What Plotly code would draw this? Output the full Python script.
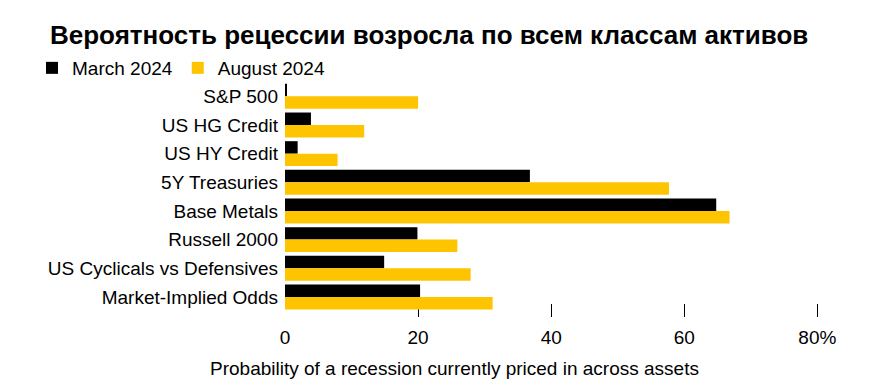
import plotly.graph_objects as go

categories = ["S&P 500", "US HG Credit", "US HY Credit", "5Y Treasuries", "Base Metals",
              "Russell 2000", "US Cyclicals vs Defensives", "Market-Implied Odds"]
march_2024 = [0.3, 3.9, 1.9, 36.8, 64.8, 19.9, 14.9, 20.3]
august_2024 = [20.0, 11.9, 7.9, 57.7, 66.8, 25.9, 27.9, 31.2]
tick_vals = [0, 20, 40, 60, 80]
tick_text = ["0", "20", "40", "60", "80%"]

FONT = "Liberation Sans, Arial, sans-serif"
BLACK = "#000000"
YELLOW = "#FFC400"

W, H = 874, 388
ML, MR, MT, MB = 285, 30, 82, 71
XMAX = 84

fig = go.Figure()
fig.add_trace(go.Bar(name="March 2024", y=categories, x=march_2024, orientation="h",
                     marker=dict(color=BLACK, line=dict(width=0))))
fig.add_trace(go.Bar(name="August 2024", y=categories, x=august_2024, orientation="h",
                     marker=dict(color=YELLOW, line=dict(width=0))))

pw = W - ML - MR
ph = H - MT - MB
fig.update_layout(
    width=W, height=H,
    margin=dict(l=ML, r=MR, t=MT, b=MB, autoexpand=False),
    paper_bgcolor="white", plot_bgcolor="white",
    barmode="group", bargap=0.13, bargroupgap=0,
    font=dict(family=FONT, size=19, color="#000000"),
    title=dict(text="<b>Вероятность рецессии возросла по всем классам активов</b>",
               x=50 / W, xref="container", xanchor="left",
               y=1 - 35 / H, yref="container", yanchor="middle",
               font=dict(family=FONT, size=26, color="#000000")),
    legend=dict(orientation="h", xref="container", yref="container",
                x=32 / W, xanchor="left",
                y=1 - 68 / H, yanchor="middle",
                font=dict(size=19), tracegroupgap=0,
                bgcolor="rgba(0,0,0,0)"),
    xaxis=dict(range=[0, XMAX], tickvals=tick_vals, ticktext=tick_text,
               showgrid=False, zeroline=False, showline=False,
               ticks="inside", ticklen=13, tickwidth=1, tickcolor="#000000",
               layer="below traces", ticklabelstandoff=7,
               tickfont=dict(size=19), fixedrange=True, automargin=False),
    yaxis=dict(range=[7.7, -0.5], showgrid=False, zeroline=False, showline=False,
               ticks="", ticklabelstandoff=6, tickfont=dict(size=19), fixedrange=True,
               automargin=False),
    showlegend=True,
)
fig.add_annotation(text="Probability of a recession currently priced in across assets",
                   xref="paper", yref="paper",
                   x=(454.5 - ML) / pw, y=-(368 - (H - MB)) / ph,
                   xanchor="center", yanchor="middle", showarrow=False,
                   font=dict(size=19, color="#000000"))

fig.write_html("out.html", config={"displayModeBar": False},
               post_script="document.body.style.margin='0px';")
